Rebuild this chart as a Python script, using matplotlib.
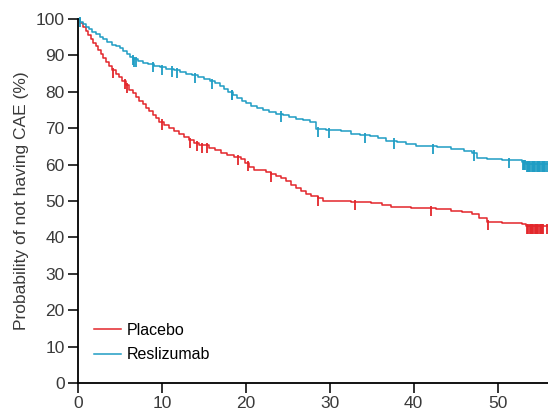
import numpy as np
import matplotlib
matplotlib.use("Agg")
import matplotlib.pyplot as plt

plt.rcParams['font.family'] = ['Liberation Sans', 'DejaVu Sans']

# Kaplan-Meier curves (months, % event-free)
blue_t = [0, 0.3, 0.6, 1.0, 1.3, 1.7, 2.1, 2.6, 3.0, 3.5, 4.0, 4.5, 5.0, 5.4,
          5.8, 6.2, 6.6, 7.2, 7.8, 8.4, 9.0, 9.8, 10.5, 11.4, 12.2, 12.9, 13.6,
          14.3, 15.0, 15.7, 16.3, 16.9, 17.4, 17.9, 18.5, 19.0, 19.5, 20.0,
          20.6, 21.3, 22.0, 22.8, 23.6, 24.4, 25.2, 26.0, 26.8, 27.6, 28.3,
          29.5, 31.3, 32.5, 33.6, 34.8, 35.8, 36.7, 38.0, 39.1, 40.3, 42.8,
          44.5, 46.0, 46.9, 47.5, 48.7, 50.5, 52.9, 53.4]
blue_s = [100, 99.2, 98.6, 97.8, 97.2, 96.5, 95.8, 95, 94.4, 93.7, 93, 92.5,
          92, 91.2, 90.5, 89.6, 89, 88.5, 88, 87.6, 87.2, 86.8, 86.4, 86, 85.5,
          85, 84.5, 84, 83.5, 83, 82.4, 81.6, 80.8, 80, 79.2, 78.3, 77.6, 77,
          76.2, 75.6, 75, 74.5, 74, 73.5, 73, 72.6, 72.2, 71.8, 69.8,
          69.6, 69.3, 68.5, 68.2, 67.8, 67.2, 66.6, 66.1, 65.6, 65.1, 64.8,
          64.4, 63.7, 63.3, 61.8, 61.5, 61.2, 60.8, 60.3]
red_t = [0, 0.3, 0.6, 0.9, 1.2, 1.5, 1.8, 2.1, 2.4, 2.7, 3.0, 3.3, 3.7, 4.1,
         4.5, 4.9, 5.3, 5.7, 6.1, 6.5, 6.9, 7.3, 7.7, 8.1, 8.5, 8.9, 9.3, 9.7,
         10.2, 10.8, 11.4, 12.0, 12.6, 13.2, 13.8, 14.4, 15.6, 16.3, 17.0,
         17.8, 18.6, 19.4, 19.9, 20.4, 21.0, 22.4, 23.0, 23.6, 24.2, 24.8,
         25.4, 26.0, 26.6, 27.2, 27.8, 28.6, 29.2, 32.5, 34.9, 36.2, 37.3,
         39.7, 42.6, 44.5, 45.8, 46.9, 47.8, 48.7, 50.5, 52.9, 53.4]
red_s = [100, 99, 97.8, 96.8, 95.6, 94.6, 93.5, 92.5, 91.5, 90.3, 89.3, 88.2,
         87, 86, 85, 84, 82.9, 81.8, 80.6, 79.6, 78.6, 77.6, 76.6, 75.6, 74.6,
         73.7, 72.8, 71.8, 70.8, 70, 69.3, 68.5, 67.6, 66.8, 66, 65.3, 64.7,
         63.9, 63.2, 62.6, 62.1, 61.6, 60.5, 59.4, 58.6, 58.1, 57.4, 56.8,
         56.2, 55.4, 54.5, 53.6, 52.7, 52, 51.4, 50.7, 50.0, 49.7, 49.4, 48.9,
         48.4, 48.1, 47.8, 47.3, 46.9, 46.4, 45.3, 44.3, 44, 43.6, 43.2]

# censoring times
blue_cens = [0.2, 6.5, 6.7, 6.9, 8.9, 10.0, 11.2, 11.8, 14.0, 16.0, 18.3, 18.4,
             24.2, 28.6, 29.9, 34.2, 37.6, 42.3, 47.2, 51.4,
             53.0, 53.15, 53.3, 53.45, 53.6, 53.75, 53.9, 54.05, 54.2, 54.35,
             54.5, 54.65, 54.8, 54.95, 55.1, 55.25, 55.4, 55.55, 55.7, 55.85]
red_cens = [4.2, 5.6, 5.8, 10.0, 13.4, 14.2, 14.8, 15.4, 19.1, 20.2, 23.0, 28.6,
            33.0, 42.1, 48.9,
            53.5, 53.65, 53.8, 53.95, 54.1, 54.25, 54.4, 54.55, 54.7, 54.85,
            55.0, 55.15, 55.3, 55.45, 55.9]

labels = ['Placebo', 'Reslizumab']
colors = ['#e3262b', '#1f9dc4']
x_ticks = [0, 10, 20, 30, 40, 50]
y_ticks = list(range(0, 101, 10))


def step_at(t, s, c):
    idx = np.searchsorted(t, c, side='right') - 1
    return np.asarray(s)[idx]


fig = plt.figure(figsize=(5.48, 4.2), dpi=100)
ax = fig.add_axes([0.1423, 0.088, 0.8577, 0.8667])

series = [(red_t, red_s, red_cens), (blue_t, blue_s, blue_cens)]
for (t, s, cens), lab, col in zip(series, labels, colors):
    t_ext = list(t) + [56]
    s_ext = list(s) + [s[-1]]
    ax.plot(t_ext, s_ext, drawstyle='steps-post', color=col, lw=1.1,
            label=lab, clip_on=False)
    cy = step_at(t, s, cens)
    ax.vlines(cens, cy - 2.2, cy + 0.6, color=col, lw=1.3, clip_on=False)

ax.set_xlim(0, 56)
ax.set_ylim(0, 100)
ax.set_xticks(x_ticks)
ax.set_yticks(y_ticks)
for side in ['top', 'right']:
    ax.spines[side].set_visible(False)
for side in ['left', 'bottom']:
    ax.spines[side].set_linewidth(1.3)
ax.tick_params(direction='out', length=7, width=1.3, labelsize=12.5,
               colors='#222222', labelcolor='#3a3a3a', pad=2.5)
ax.set_ylabel('Probability of not having CAE (%)', fontsize=12.5,
              color='#3a3a3a', labelpad=5)

ax.legend(loc='lower left', bbox_to_anchor=(0.02, 0.04), frameon=False,
          fontsize=11.5, handlelength=1.7, handletextpad=0.35,
          borderaxespad=0, labelspacing=0.6)

fig.savefig('out.png', dpi=100)
